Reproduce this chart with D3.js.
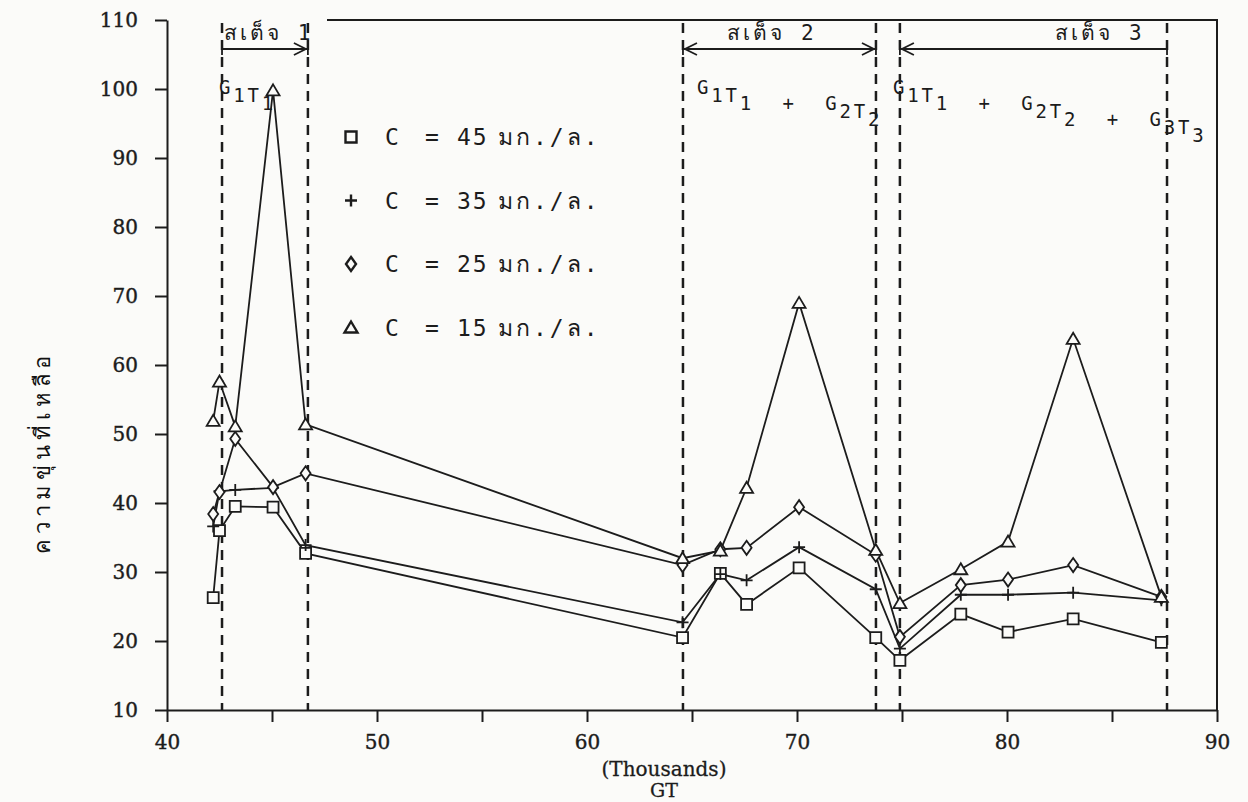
<!DOCTYPE html>
<html>
<head>
<meta charset="utf-8">
<script src="https://cdn.jsdelivr.net/npm/d3@7"></script>
<style>
  body { margin: 0; background: #fbfbf9; }
  svg { display: block; }
</style>
</head>
<body>
<div id="chart"></div>
<script>
// GT (thousands) of each run, shared by all four series
var gt = [42.2, 42.5, 43.25, 45.05, 46.6, 64.55, 66.35, 67.6, 70.1, 73.75, 74.9, 77.8, 80.05, 83.15, 87.35];

// residual turbidity per initial concentration
var c45 = [26.3, 36.0, 39.5, 39.4, 32.7, 20.5, 29.8, 25.3, 30.6, 20.5, 17.2, 23.9, 21.3, 23.2, 19.8];
var c35 = [36.6, 41.7, 41.9, 42.2, 33.9, 22.7, 29.7, 28.8, 33.6, 27.5, 18.9, 26.7, 26.7, 27.0, 25.9];
var c25 = [38.4, 41.6, 49.3, 42.3, 44.3, 31.0, 33.3, 33.5, 39.4, 32.5, 20.6, 28.1, 28.9, 31.0, 26.4];
var c15 = [51.9, 57.6, 51.1, 99.8, 51.4, 32.0, 33.1, 42.2, 69.0, 33.2, 25.5, 30.4, 34.4, 63.8, 26.4];

var concLabels = ["45", "35", "25", "15"];
var unitLabel = "มก./ล.";
var markerTypes = ["square", "plus", "diamond", "triangle"];

// stage boundaries (dashed verticals)
var stageBounds = [42.62, 46.71, 64.57, 73.76, 74.9, 87.62];
var stageNames = ["สเต็จ 1", "สเต็จ 2", "สเต็จ 3"];

var yTicks = d3.range(10, 111, 10);
var xTicks = d3.range(40, 91, 5);
var yTitle = "ความขุ่นที่เหลือ";

var W = 1248, H = 802;
var svg = d3.select("#chart").append("svg").attr("width", W).attr("height", H);

var x = d3.scaleLinear().domain([40, 90]).range([167, 1217]);
var y = d3.scaleLinear().domain([10, 110]).range([710, 20]);

var ink = "#1c1c1c";
var bg = "#fbfbf9";
var serif = "'DejaVu Serif', serif";
var mono = "'DejaVu Sans Mono', monospace";

// axes
var yAxis = svg.append("g")
  .attr("transform", "translate(" + x(40) + ",0)")
  .call(d3.axisLeft(y).tickValues(yTicks).tickSize(12).tickSizeOuter(0).tickPadding(17));
var xAxis = svg.append("g")
  .attr("transform", "translate(0," + y(10) + ")")
  .call(d3.axisBottom(x).tickValues(xTicks).tickSize(12).tickSizeOuter(0).tickPadding(13)
    .tickFormat(function (d) { return d % 10 === 0 ? d : ""; }));

[yAxis, xAxis].forEach(function (a) {
  a.selectAll("path, line").attr("stroke", ink).attr("stroke-width", 2);
  a.selectAll("text").attr("fill", ink).attr("stroke", ink).attr("stroke-width", 0.4)
    .style("font-family", serif).style("font-size", "20px");
});

// frame (top edge is broken above stage 1 label in the original)
svg.append("path")
  .attr("d", "M" + 327 + "," + y(110) + "H" + x(90) + "V" + y(10))
  .attr("fill", "none").attr("stroke", ink).attr("stroke-width", 2);

// dashed stage boundaries
svg.selectAll(".bound").data(stageBounds).join("line")
  .attr("class", "bound")
  .attr("x1", function (d) { return x(d); }).attr("x2", function (d) { return x(d); })
  .attr("y1", y(110) + 3).attr("y2", y(10))
  .attr("stroke", ink).attr("stroke-width", 2.5).attr("stroke-dasharray", "10,7");

// axis titles
svg.append("text").attr("x", 664).attr("y", 776).attr("text-anchor", "middle")
  .style("font-family", serif).style("font-size", "20px").attr("fill", ink)
  .attr("stroke", ink).attr("stroke-width", 0.3)
  .text("(Thousands)");
svg.append("text").attr("x", 664).attr("y", 797).attr("text-anchor", "middle")
  .style("font-family", serif).style("font-size", "19px").attr("fill", ink)
  .attr("stroke", ink).attr("stroke-width", 0.3)
  .text("GT");
svg.append("text")
  .attr("transform", "translate(50,452) rotate(-90)")
  .attr("text-anchor", "middle")
  .style("font-family", mono).style("font-size", "22px").style("letter-spacing", "5px")
  .attr("fill", "#111")
  .text(yTitle);

// series
var series = [c45, c35, c25, c15].map(function (vals, i) {
  return { type: markerTypes[i], conc: concLabels[i],
    points: vals.map(function (v, j) { return [gt[j], v]; }) };
});

var line = d3.line().x(function (d) { return x(d[0]); }).y(function (d) { return y(d[1]); });

svg.append("g").selectAll("path").data(series).join("path")
  .attr("d", function (s) { return line(s.points); })
  .attr("fill", "none").attr("stroke", ink).attr("stroke-width", 1.8);

function markerPath(type) {
  if (type === "square") return "M-5.5,-5.5H5.5V5.5H-5.5Z";
  if (type === "plus") return "M-6,0H6M0,-6V6";
  if (type === "diamond") return "M0,-7L5,0L0,7L-5,0Z";
  return "M0,-6L6.5,5H-6.5Z";
}

series.forEach(function (s) {
  svg.append("g").selectAll("path").data(s.points).join("path")
    .attr("transform", function (d) { return "translate(" + x(d[0]) + "," + y(d[1]) + ")"; })
    .attr("d", markerPath(s.type))
    .attr("fill", s.type === "plus" ? "none" : bg)
    .attr("stroke", ink).attr("stroke-width", 1.8);
});

// legend
var legend = svg.append("g")
  .style("font-family", mono).style("font-size", "23px").attr("fill", ink);
series.forEach(function (s, i) {
  var ly = 137 + i * 63.5;
  legend.append("path").attr("transform", "translate(351," + ly + ")")
    .attr("d", markerPath(s.type)).attr("fill", s.type === "plus" ? "none" : bg)
    .attr("stroke", ink).attr("stroke-width", 2.4);
  legend.append("text").attr("x", 385).attr("y", ly + 8).text("C");
  legend.append("text").attr("x", 425).attr("y", ly + 8).text("=");
  legend.append("text").attr("x", 457).attr("y", ly + 8).style("letter-spacing", "2px").text(s.conc);
  legend.append("text").attr("x", 498).attr("y", ly + 8).style("letter-spacing", "3px").text(unitLabel);
});

// stage annotations
var stages = [
  { from: stageBounds[0], to: stageBounds[1], name: stageNames[0], left: false, right: true, tx: 224, anchor: "start" },
  { from: stageBounds[2], to: stageBounds[3], name: stageNames[1], left: true, right: true, tx: 772, anchor: "middle" },
  { from: stageBounds[4], to: stageBounds[5], name: stageNames[2], left: true, right: false, tx: 1100, anchor: "middle" }
];
stages.forEach(function (st) {
  var x0 = x(st.from), x1 = x(st.to), ay = 49;
  svg.append("line").attr("x1", x0).attr("x2", x1).attr("y1", ay).attr("y2", ay)
    .attr("stroke", ink).attr("stroke-width", 1.8);
  svg.append("line").attr("x1", x0).attr("x2", x0).attr("y1", ay - 6).attr("y2", ay + 6)
    .attr("stroke", ink).attr("stroke-width", 1.8);
  svg.append("line").attr("x1", x1).attr("x2", x1).attr("y1", ay - 6).attr("y2", ay + 6)
    .attr("stroke", ink).attr("stroke-width", 1.8);
  if (st.left) svg.append("path").attr("d", "M" + (x0 + 14) + "," + (ay - 6) + "L" + (x0 + 2) + "," + ay + "L" + (x0 + 14) + "," + (ay + 6))
    .attr("fill", "none").attr("stroke", ink).attr("stroke-width", 1.8);
  if (st.right) svg.append("path").attr("d", "M" + (x1 - 14) + "," + (ay - 6) + "L" + (x1 - 2) + "," + ay + "L" + (x1 - 14) + "," + (ay + 6))
    .attr("fill", "none").attr("stroke", ink).attr("stroke-width", 1.8);
  svg.append("text").attr("x", st.tx).attr("y", 40).attr("text-anchor", st.anchor)
    .style("font-family", mono).style("font-size", "21px").style("letter-spacing", "3px").attr("fill", ink)
    .text(st.name);
});

// G/T labels with subscripts
var gtLabels = [
  { x: 219, parts: [["G", "1"], ["T", "1"]] },
  { x: 697, parts: [["G", "1"], ["T", "1"], ["  +  "], ["G", "2"], ["T", "2"]] },
  { x: 893, parts: [["G", "1"], ["T", "1"], ["  +  "], ["G", "2"], ["T", "2"], ["  +  "], ["G", "3"], ["T", "3"]] }
];
gtLabels.forEach(function (g) {
  var t = svg.append("text").attr("x", g.x).attr("y", 94).attr("xml:space", "preserve")
    .style("font-family", mono).style("font-size", "19px").style("letter-spacing", "2.8px").attr("fill", ink);
  g.parts.forEach(function (p) {
    if (p.length === 1) { t.append("tspan").text(p[0]); return; }
    t.append("tspan").text(p[0]);
    t.append("tspan").attr("dy", 8).text(p[1]);
    t.append("tspan").attr("dy", -8).text("");
  });
});
</script>
</body>
</html>
